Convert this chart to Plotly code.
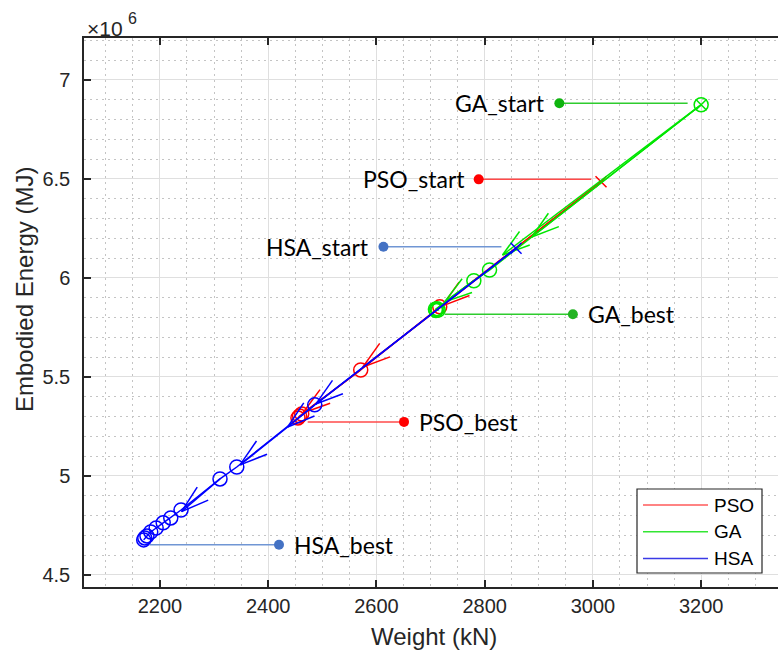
import math
import plotly.graph_objects as go

# Axis limits (weight in kN, embodied energy in units of 10^6 MJ)
X_RANGE = [2059.7, 3342.0]
Y_RANGE = [4.439, 7.212]
FIG_W, FIG_H = 778, 653
MARGIN = dict(l=84, r=0, t=38, b=66)

# Iteration history of each optimiser (x: weight, y: embodied energy / 1e6)
pso_x = [3015, 2717, 2571, 2462, 2458, 2455]
pso_y = [6.486, 5.854, 5.535, 5.313, 5.303, 5.293]
ga_x = [3200, 2809, 2780, 2709, 2712, 2714, 2710]
ga_y = [6.875, 6.040, 5.986, 5.842, 5.845, 5.838, 5.835]
hsa_x = [2858, 2486, 2342, 2311, 2239, 2220, 2206, 2193, 2183, 2176, 2172, 2170]
hsa_y = [6.150, 5.359, 5.045, 4.985, 4.828, 4.788, 4.763, 4.737, 4.717, 4.697, 4.687, 4.677]

# Direction arrows along each search path: tail -> head
pso_arrow_x0 = [3015, 2722, 2571]
pso_arrow_y0 = [6.486, 5.859, 5.535]
pso_arrow_x1 = [2722, 2575, 2464]
pso_arrow_y1 = [5.859, 5.550, 5.318]
ga_arrow_x0 = [3200, 3200, 2780]
ga_arrow_y0 = [6.875, 6.875, 5.986]
ga_arrow_x1 = [2887, 2833, 2726]
ga_arrow_y1 = [6.207, 6.116, 5.879]
hsa_arrow_x0 = [2858, 2486, 2436, 2311]
hsa_arrow_y0 = [6.150, 5.359, 5.247, 4.985]
hsa_arrow_x1 = [2488, 2436, 2348, 2240]
hsa_arrow_y1 = [5.363, 5.247, 5.056, 4.820]

# Call-out labels: text, end of leader line, level, dot position
callout_text = ["GA_start", "PSO_start", "HSA_start", "GA_best", "PSO_best", "HSA_best"]
callout_tip_x = [3175, 2997, 2831, 2726, 2473, 2181]
callout_y = [6.882, 6.498, 6.158, 5.817, 5.273, 4.652]
callout_dot_x = [2938, 2789, 2613, 2963, 2651, 2420]
callout_side = ["left", "left", "left", "right", "right", "right"]
callout_line_color = ["#2ecc2e", "#ff4a4a", "#7096d4", "#2ecc2e", "#ff4a4a", "#7096d4"]
callout_dot_color = ["#0fb40f", "#ff0000", "#4472c4", "#22b322", "#ff0000", "#4472c4"]

legend_names = ["PSO", "GA", "HSA"]

PSO_C, GA_C, HSA_C = "#ff0000", "#00e600", "#0000ff"
LEGEND_C = ["#ff5a5a", "#33e633", "#3a3ae6"]
AXIS_C = "#262626"
FONT = "Liberation Sans, Arial"

plot_w = FIG_W - MARGIN["l"] - MARGIN["r"]
plot_h = FIG_H - MARGIN["t"] - MARGIN["b"]
kx = plot_w / (X_RANGE[1] - X_RANGE[0])
ky = plot_h / (Y_RANGE[1] - Y_RANGE[0])


def px_to_paper_x(px):
    return (px - MARGIN["l"]) / plot_w


def px_to_paper_y(py):
    return (FIG_H - MARGIN["b"] - py) / plot_h


def arrow_heads(x0, y0, x1, y1, barb=29.0, spread=17.0):
    """Open V arrowheads (quiver style) computed in screen space."""
    xs, ys = [], []
    phi = math.radians(spread)
    for a, b, c, d in zip(x0, y0, x1, y1):
        th = math.atan2((d - b) * ky, (c - a) * kx)
        for s in (1, -1):
            xs += [c - barb * math.cos(th + s * phi) / kx, c, None]
            ys += [d - barb * math.sin(th + s * phi) / ky, d, None]
        xs += [a, c, None]
        ys += [b, d, None]
    return xs, ys


fig = go.Figure()

series = [
    ("PSO", pso_x, pso_y, PSO_C, (pso_arrow_x0, pso_arrow_y0, pso_arrow_x1, pso_arrow_y1)),
    ("GA", ga_x, ga_y, GA_C, (ga_arrow_x0, ga_arrow_y0, ga_arrow_x1, ga_arrow_y1)),
    ("HSA", hsa_x, hsa_y, HSA_C, (hsa_arrow_x0, hsa_arrow_y0, hsa_arrow_x1, hsa_arrow_y1)),
]

for name, xs, ys, col, arr in series:
    # search path
    fig.add_trace(go.Scatter(x=xs, y=ys, mode="lines", name=name,
                             line=dict(color=col, width=1.5), showlegend=False))
    ax, ay = arrow_heads(*arr)
    fig.add_trace(go.Scatter(x=ax, y=ay, mode="lines", line=dict(color=col, width=1.5),
                             showlegend=False, hoverinfo="skip"))
    # iteration markers (GA marks its start with a circle as well)
    cx, cy = (xs, ys) if name == "GA" else (xs[1:], ys[1:])
    fig.add_trace(go.Scatter(x=cx, y=cy, mode="markers", showlegend=False,
                             marker=dict(symbol="circle-open", size=14, color=col,
                                         line=dict(width=1.5, color=col))))
    # start marker
    fig.add_trace(go.Scatter(x=[xs[0]], y=[ys[0]], mode="markers", showlegend=False,
                             marker=dict(symbol="x-thin-open", size=11, color=col,
                                         line=dict(width=1.5, color=col))))

# call-outs
for txt, tx, y, dx, side, lc, dc in zip(callout_text, callout_tip_x, callout_y,
                                         callout_dot_x, callout_side,
                                         callout_line_color, callout_dot_color):
    fig.add_trace(go.Scatter(x=[tx, dx], y=[y, y], mode="lines", showlegend=False,
                             line=dict(color=lc, width=1.5), hoverinfo="skip"))
    fig.add_trace(go.Scatter(x=[dx], y=[y], mode="markers", showlegend=False,
                             marker=dict(size=10, color=dc), hoverinfo="skip"))
    fig.add_annotation(x=dx, y=y, text=txt, showarrow=False,
                       xanchor="right" if side == "left" else "left",
                       xshift=-12 if side == "left" else 13, yanchor="middle",
                       font=dict(family="Lato", size=23, color="black"))

axis_common = dict(
    showline=True, linecolor=AXIS_C, linewidth=1.5,
    ticks="inside", ticklen=7, tickwidth=1.5, tickcolor=AXIS_C,
    showgrid=True, gridcolor="#dfdfdf", gridwidth=1,
    zeroline=False,
    tickfont=dict(family=FONT, size=20, color=AXIS_C),
)
minor_grid = dict(showgrid=True, gridcolor="#c4c4c4", griddash="2px,4px", gridwidth=1)

fig.update_xaxes(range=X_RANGE, dtick=200, tick0=0, mirror="ticks",
                 minor=dict(dtick=50, tick0=0, **minor_grid), **axis_common)
fig.update_yaxes(range=Y_RANGE, dtick=0.5, tick0=0, ticklabelstandoff=8,
                 minor=dict(dtick=0.1, tick0=0, **minor_grid), **axis_common)

fig.add_annotation(xref="paper", yref="paper", x=0.504, y=px_to_paper_y(636),
                   text="Weight (kN)", showarrow=False, xanchor="center", yanchor="middle",
                   font=dict(family=FONT, size=24, color=AXIS_C))
fig.add_annotation(xref="paper", yref="paper", x=px_to_paper_x(24), y=px_to_paper_y(290),
                   text="Embodied Energy (MJ)", showarrow=False, textangle=-90,
                   xanchor="center", yanchor="middle",
                   font=dict(family=FONT, size=24, color=AXIS_C))
# axis exponent label
fig.add_annotation(xref="paper", yref="paper", x=px_to_paper_x(85), y=px_to_paper_y(28),
                   text="×10", showarrow=False, xanchor="left", yanchor="middle",
                   font=dict(family=FONT, size=21, color=AXIS_C))
fig.add_annotation(xref="paper", yref="paper", x=px_to_paper_x(126), y=px_to_paper_y(18),
                   text="6", showarrow=False, xanchor="left", yanchor="middle",
                   font=dict(family=FONT, size=16, color=AXIS_C))

# legend box
fig.add_shape(type="rect", xref="paper", yref="paper",
              x0=px_to_paper_x(637), x1=px_to_paper_x(762),
              y0=px_to_paper_y(573), y1=px_to_paper_y(489),
              line=dict(color=AXIS_C, width=1.2), fillcolor="white", layer="above")
for i, (nm, lc) in enumerate(zip(legend_names, LEGEND_C)):
    ry = px_to_paper_y(505 + 26.7 * i)
    fig.add_shape(type="line", xref="paper", yref="paper",
                  x0=px_to_paper_x(643), x1=px_to_paper_x(708), y0=ry, y1=ry,
                  line=dict(color=lc, width=1.5), layer="above")
    fig.add_annotation(xref="paper", yref="paper", x=px_to_paper_x(712), y=ry,
                       text=nm, showarrow=False, xanchor="left", yanchor="middle",
                       font=dict(family=FONT, size=19, color="black"))

fig.update_layout(
    width=FIG_W, height=FIG_H, margin=MARGIN,
    plot_bgcolor="white", paper_bgcolor="white",
    showlegend=False,
)

fig.write_html("out.html")
